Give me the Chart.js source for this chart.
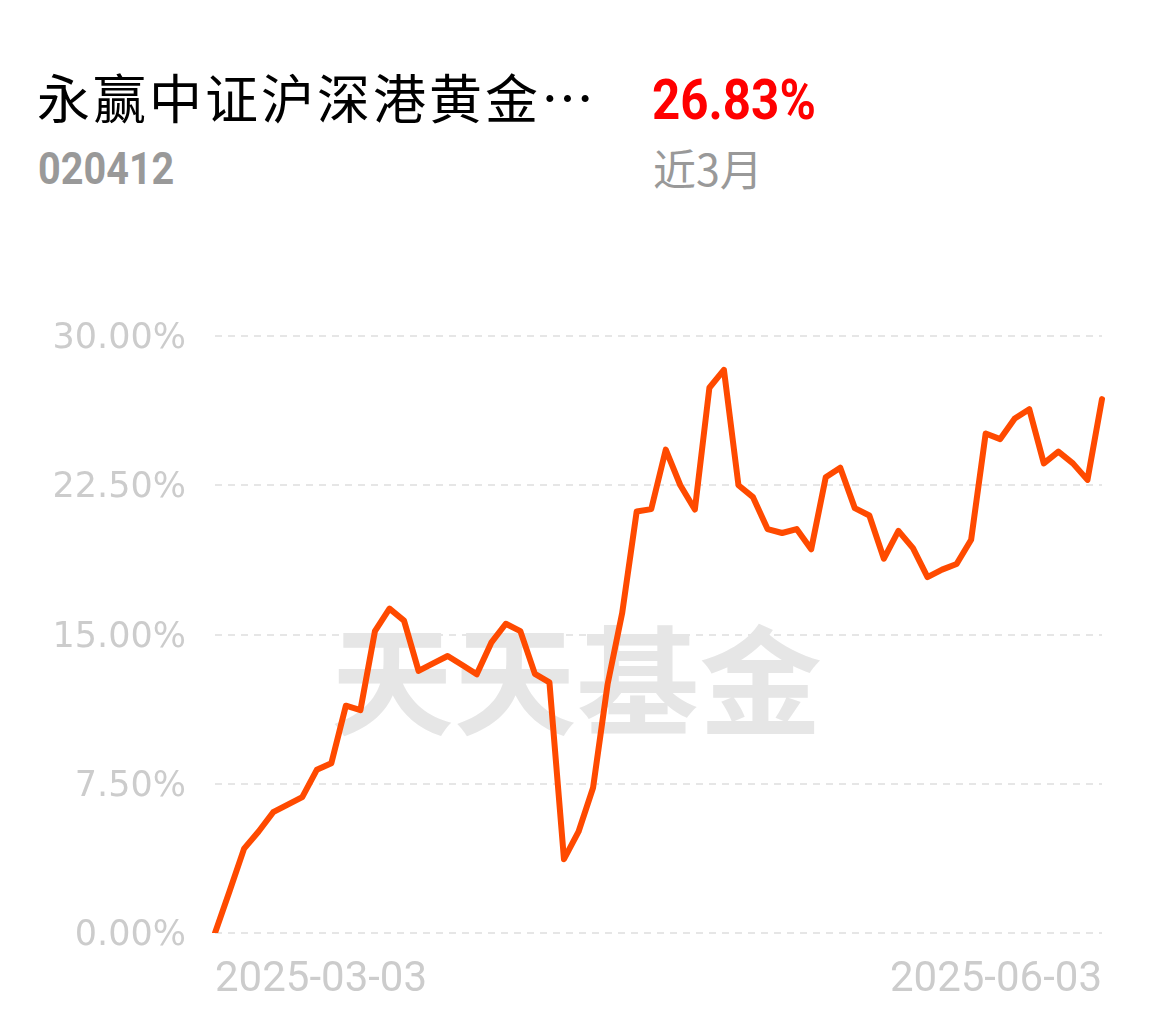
<!DOCTYPE html>
<html>
<head>
<meta charset="utf-8">
<script src="https://cdn.jsdelivr.net/npm/chart.js@4.4.1/dist/chart.umd.min.js"></script>
<style>
  html, body { margin: 0; padding: 0; background: #fff; }
  body { width: 1155px; height: 1022px; position: relative; overflow: hidden; }
  .abs { position: absolute; white-space: nowrap; line-height: 1; transform-origin: left top; }
  #title { left: 37px; top: 70px; font-family: "Noto Sans CJK SC"; font-size: 53px; letter-spacing: 3px; color: #000; }
  #code { left: 38px; top: 147px; font-family: Roboto; font-weight: 700; font-size: 44px; color: #999; transform: scaleX(0.9); }
  #ret { left: 652px; top: 72px; font-family: Roboto; font-weight: 700; font-size: 56px; color: #f00; transform: scaleX(0.88); }
  #period { left: 653px; top: 146px; font-family: "Noto Sans CJK SC"; font-size: 43px; color: #999; }
  #mark { left: 331px; top: 616px; font-family: "Noto Sans CJK SC"; font-weight: 700; font-size: 118px; color: #e6e6e6;
          transform: scaleX(1.04); }
  #wrap { position: absolute; left: 0; top: 286px; width: 1155px; height: 724px; }
</style>
</head>
<body>
<div class="abs" id="title">永赢中证沪深港黄金…</div>
<div class="abs" id="code">020412</div>
<div class="abs" id="ret">26.83%</div>
<div class="abs" id="period">近3月</div>
<div class="abs" id="mark">天天基金</div>
<div id="wrap"><canvas id="chart"></canvas></div>
<script>
// trading days, 2025-03-03 .. 2025-06-03
const dates = [
  '2025-03-03','2025-03-04','2025-03-05','2025-03-06','2025-03-07',
  '2025-03-10','2025-03-11','2025-03-12','2025-03-13','2025-03-14',
  '2025-03-17','2025-03-18','2025-03-19','2025-03-20','2025-03-21',
  '2025-03-24','2025-03-25','2025-03-26','2025-03-27','2025-03-28','2025-03-31',
  '2025-04-01','2025-04-02','2025-04-03','2025-04-07','2025-04-08',
  '2025-04-09','2025-04-10','2025-04-11','2025-04-14','2025-04-15',
  '2025-04-16','2025-04-17','2025-04-18','2025-04-21','2025-04-22',
  '2025-04-23','2025-04-24','2025-04-25','2025-04-28','2025-04-29','2025-04-30',
  '2025-05-06','2025-05-07','2025-05-08','2025-05-09','2025-05-12',
  '2025-05-13','2025-05-14','2025-05-15','2025-05-16','2025-05-19',
  '2025-05-20','2025-05-21','2025-05-22','2025-05-23','2025-05-26',
  '2025-05-27','2025-05-28','2025-05-29','2025-05-30','2025-06-03'
];

// cumulative return, %
const returns = [
  0, 2.1, 4.24, 5.1, 6.07, 6.45, 6.83, 8.2, 8.53, 11.42,
  11.2, 15.17, 16.3, 15.7, 13.17, 13.55, 13.92, 13.47, 13.0, 14.59,
  15.54, 15.17, 13.02, 12.59, 3.71, 5.09, 7.3, 12.5, 16.07, 21.18,
  21.3, 24.29, 22.5, 21.28, 27.4, 28.3, 22.5, 21.9, 20.3, 20.1,
  20.3, 19.28, 22.9, 23.38, 21.35, 20.98, 18.81, 20.21, 19.34, 17.88,
  18.26, 18.54, 19.76, 25.1, 24.82, 25.85, 26.32, 23.6, 24.19, 23.6,
  22.77, 26.83
];

const yTicks = [0, 7.5, 15, 22.5, 30];

const ctx = document.getElementById('chart').getContext('2d');
new Chart(ctx, {
  type: 'line',
  data: {
    labels: dates,
    datasets: [{
      data: returns,
      borderColor: '#ff4a00',
      borderWidth: 6,
      borderJoinStyle: 'round',
      borderCapStyle: 'round',
      pointRadius: 0,
      tension: 0,
      fill: false
    }]
  },
  options: {
    responsive: true,
    maintainAspectRatio: false,
    animation: false,
    layout: { padding: { top: 20, right: 53, left: 0, bottom: 0 } },
    plugins: { legend: { display: false }, tooltip: { enabled: false } },
    scales: {
      x: {
        grid: { display: false },
        border: { display: false },
        afterFit: (axis) => { axis.height = 77; },
        ticks: {
          autoSkip: false,
          maxRotation: 0,
          align: 'inner',
          padding: 14,
          color: '#cccccc',
          font: { family: 'Roboto', size: 42 },
          callback: function (value, index) {
            return (index === 0 || index === dates.length - 1) ? dates[index] : '';
          }
        }
      },
      y: {
        min: 0,
        max: 30,
        afterFit: (axis) => { axis.width = 215; },
        afterBuildTicks: (axis) => { axis.ticks = yTicks.map(v => ({ value: v })); },
        grid: { color: '#e6e6e6', lineWidth: 2, drawTicks: false },
        border: { display: false, dash: [7, 6] },
        ticks: {
          padding: 29,
          labelOffset: 3,
          color: '#cccccc',
          font: { family: 'DejaVu Sans', size: 35 },
          callback: (v) => v.toFixed(2) + '%'
        }
      }
    }
  }
});
</script>
</body>
</html>
